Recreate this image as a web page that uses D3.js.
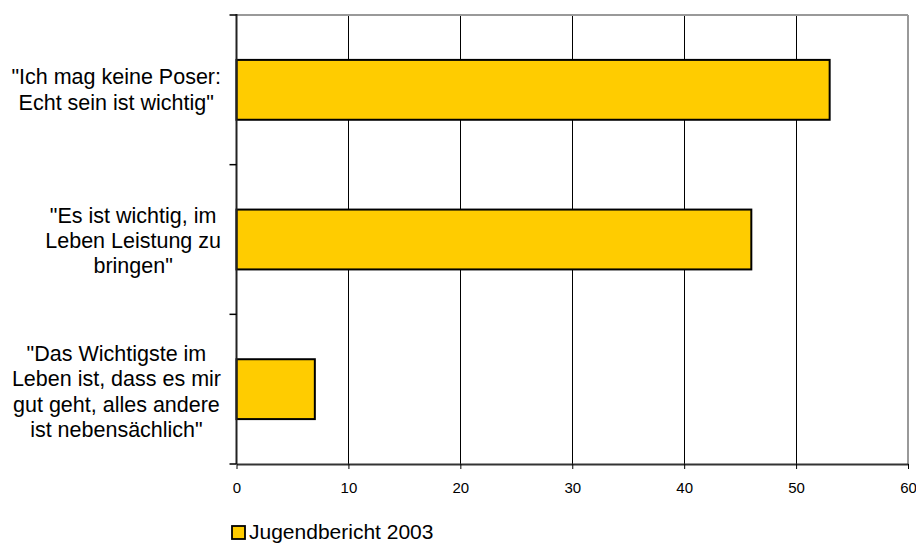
<!DOCTYPE html>
<html><head><meta charset="utf-8">
<script src="https://cdn.jsdelivr.net/npm/d3@7"></script>
<style>body{margin:0;background:#fff}svg{display:block;font-family:"Liberation Sans",Arial,sans-serif}</style>
</head><body><svg id="c" width="916" height="544"></svg>
<script>
const categories = [
  ["\"Ich mag keine Poser:", "Echt sein ist wichtig\""],
  ["\"Es ist wichtig, im", "Leben Leistung zu", "bringen\""],
  ["\"Das Wichtigste im", "Leben ist, dass es mir", "gut geht, alles andere", "ist nebensächlich\""]
];
const values = [53, 46, 7];
const xTicks = [0, 10, 20, 30, 40, 50, 60];
const seriesName = "Jugendbericht 2003";

const svg = d3.select("#c");
const L = 236.5, R = 908, T = 15, B = 464;
const x = d3.scaleLinear().domain([0, 60]).range([L, R]);
const y = d3.scaleBand().domain(d3.range(categories.length)).range([T, B]).paddingInner(0.6).paddingOuter(0.3);
const yb = d3.scaleBand().domain(d3.range(categories.length)).range([T, B]).padding(0);

// gridlines
svg.append("g").selectAll("line").data(xTicks.filter(d => d > 0 && d < 60)).join("line")
  .attr("x1", d => Math.round(x(d)) + 0.5).attr("x2", d => Math.round(x(d)) + 0.5)
  .attr("y1", T).attr("y2", B).attr("stroke", "#000").attr("stroke-width", 1);

// top & right border
svg.append("line").attr("x1", L).attr("x2", R).attr("y1", T).attr("y2", T).attr("stroke", "#999").attr("stroke-width", 2);
svg.append("line").attr("x1", R).attr("x2", R).attr("y1", T).attr("y2", B).attr("stroke", "#999").attr("stroke-width", 2);

// bars
svg.append("g").selectAll("rect").data(values).join("rect")
  .attr("x", x(0)).attr("y", (d, i) => y(i))
  .attr("width", d => x(d) - x(0)).attr("height", y.bandwidth())
  .attr("fill", "#FFCC00").attr("stroke", "#000").attr("stroke-width", 2);

// bottom axis
const xAxis = d3.axisBottom(x).tickValues(xTicks).tickSize(5).tickPadding(13).tickSizeOuter(0);
const gx = svg.append("g").attr("transform", `translate(0,${B})`).call(xAxis);
gx.select(".domain").attr("stroke", "#333").attr("stroke-width", 2);
gx.selectAll(".tick line").attr("stroke", "#000");
gx.selectAll("text").attr("font-size", 15).attr("fill", "#000").attr("font-family", "Liberation Sans, Arial, sans-serif");

// left axis
svg.append("line").attr("x1", L).attr("x2", L).attr("y1", T - 1).attr("y2", B).attr("stroke", "#222").attr("stroke-width", 2);
const bounds = d3.range(categories.length + 1).map(i => i < categories.length ? yb(i) : B);
svg.append("g").selectAll("line").data(bounds).join("line")
  .attr("x1", L - 7).attr("x2", L).attr("y1", d => d).attr("y2", d => d)
  .attr("stroke", "#000").attr("stroke-width", 1.5);

// category labels
const lh = 25.4;
categories.forEach((lines, i) => {
  const cy = yb(i) + yb.bandwidth() / 2;
  const n = lines.length;
  const g = svg.append("g");
  const t = g.selectAll("text").data(lines).join("text")
    .attr("font-size", 21.5).attr("fill", "#000").attr("text-anchor", "middle")
    .attr("y", (d, j) => cy + (j - (n - 1) / 2) * lh + 4 + 1.5 * n)
    .text(d => d);
  let maxw = 0;
  t.each(function () { maxw = Math.max(maxw, this.getComputedTextLength()); });
  t.attr("x", 221 - maxw / 2);
});

// legend
svg.append("rect").attr("x", 232).attr("y", 526).attr("width", 13).attr("height", 13)
  .attr("fill", "#FFCC00").attr("stroke", "#000").attr("stroke-width", 1.8);
svg.append("text").attr("x", 249).attr("y", 538.5).attr("font-size", 21).attr("fill", "#000").text(seriesName);
</script></body></html>
